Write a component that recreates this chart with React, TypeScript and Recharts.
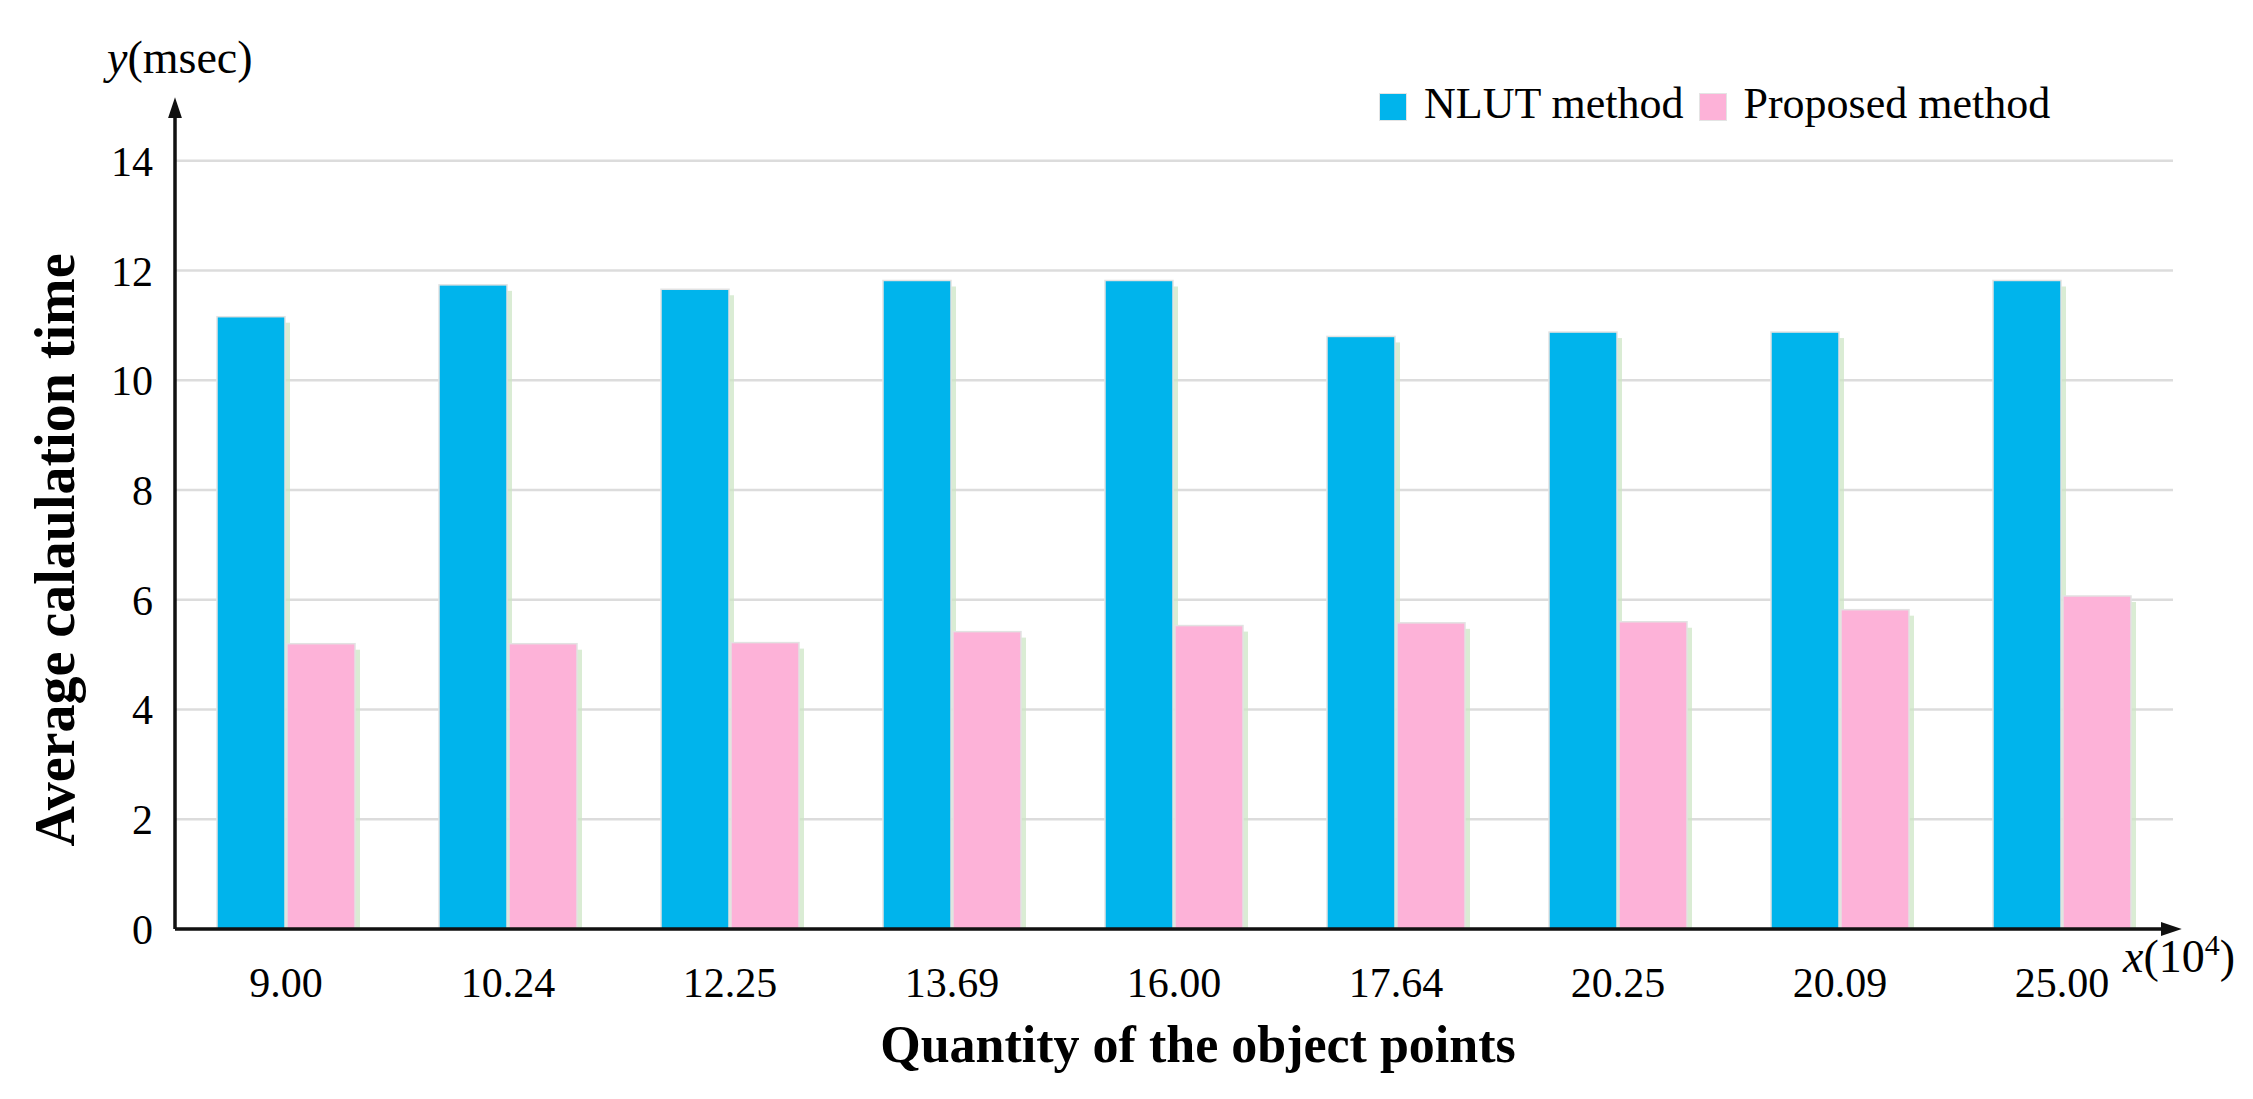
import React from "react";
import {
  BarChart,
  Bar,
  XAxis,
  YAxis,
  CartesianGrid,
  Label,
} from "recharts";

// values
const categories = ["9.00", "10.24", "12.25", "13.69", "16.00", "17.64", "20.25", "20.09", "25.00"];
const nlutTimes = [11.16, 11.74, 11.66, 11.82, 11.82, 10.8, 10.88, 10.88, 11.82];
const proposedTimes = [5.2, 5.2, 5.22, 5.42, 5.53, 5.58, 5.6, 5.82, 6.07];
const yTicks = [0, 2, 4, 6, 8, 10, 12, 14];

const seriesNames = ["NLUT method", "Proposed method"];
const seriesColors = ["#00B4EC", "#FDB2D8"];

const data = categories.map((c, i) => ({
  name: c,
  nlut: nlutTimes[i],
  proposed: proposedTimes[i],
}));

const FONT = '"Liberation Serif", "Times New Roman", serif';

// bar with the soft green shadow on its right side
const ShadowBar = (props: any) => {
  const { x, y, width, height, fill } = props;
  if (!height || height <= 0) return null;
  return (
    <g>
      <rect x={x + width} y={y + 6} width={5} height={height - 6} fill="#cde6c6" opacity={0.75} />
      <rect x={x} y={y} width={width} height={height} fill={fill} stroke="#e2e2e2" strokeWidth={1.5} />
    </g>
  );
};

const LegendBox = () => (
  <div
    style={{
      position: "absolute",
      top: 82,
      left: 1379,
      display: "flex",
      alignItems: "center",
      fontFamily: FONT,
      fontSize: 44,
      lineHeight: 1,
      color: "#000",
    }}
  >
    {seriesNames.map((n, i) => (
      <span key={n} style={{ display: "flex", alignItems: "center", marginRight: 15 }}>
        <span
          style={{
            width: 26,
            height: 26,
            marginTop: 6,
            background: seriesColors[i],
            border: "1px solid #e4e4e4",
            marginRight: 17,
            display: "inline-block",
          }}
        />
        {n}
      </span>
    ))}
  </div>
);

function App() {
  return (
    <div style={{ position: "absolute", left: 0, top: 0, width: 2253, height: 1099, background: "#fff" }}>
      <BarChart
        width={2253}
        height={1099}
        data={data}
        margin={{ top: 106, right: 80, left: 0, bottom: 0 }}
        barCategoryGap={42}
        barGap={2}
      >
        <defs>
          <marker
            id="axisArrow"
            viewBox="0 0 12 8"
            refX="7"
            refY="4"
            markerWidth="6"
            markerHeight="4"
            orient="auto-start-reverse"
          >
            <path d="M0,0 L12,4 L0,8 z" fill="#111" />
          </marker>
        </defs>
        <CartesianGrid vertical={false} horizontalValues={yTicks} stroke="#dcdcdc" strokeWidth={2.5} />
        <XAxis
          dataKey="name"
          height={170}
          tickSize={0}
          tickMargin={38}
          axisLine={{ stroke: "#111", strokeWidth: 3.5, markerEnd: "url(#axisArrow)" }}
          tick={{ fontFamily: FONT, fontSize: 42, fill: "#000" }}
          interval={0}
        >
          <Label
            content={() => (
              <g>
                <text x={1198} y={1062} textAnchor="middle" fontFamily={FONT} fontSize={52} fontWeight="bold" fill="#000">
                  Quantity of the object points
                </text>
                <text x={2123} y={972} fontFamily={FONT} fontSize={46} fill="#000">
                  <tspan fontStyle="italic">x</tspan>
                  <tspan>(10</tspan>
                  <tspan dy={-17} fontSize={30}>4</tspan>
                  <tspan dy={17}>)</tspan>
                </text>
              </g>
            )}
          />
        </XAxis>
        <YAxis
          width={175}
          domain={[0, 15]}
          ticks={yTicks}
          tickSize={0}
          tickMargin={22}
          axisLine={{ stroke: "#111", strokeWidth: 3.5, markerStart: "url(#axisArrow)" }}
          tick={{ fontFamily: FONT, fontSize: 42, fill: "#000" }}
        >
          <Label
            content={() => (
              <g>
                <text
                  x={74}
                  y={550}
                  transform="rotate(-90, 74, 550)"
                  textAnchor="middle"
                  fontFamily={FONT}
                  fontSize={56}
                  fontWeight="bold"
                  fill="#000"
                >
                  Average calaulation time
                </text>
                <text x={107} y={73} fontFamily={FONT} fontSize={46} fill="#000">
                  <tspan fontStyle="italic">y</tspan>
                  <tspan>(msec)</tspan>
                </text>
              </g>
            )}
          />
        </YAxis>
        <Bar dataKey="nlut" name={seriesNames[0]} fill={seriesColors[0]} shape={<ShadowBar />} isAnimationActive={false} />
        <Bar dataKey="proposed" name={seriesNames[1]} fill={seriesColors[1]} shape={<ShadowBar />} isAnimationActive={false} />
      </BarChart>
      <LegendBox />
    </div>
  );
}

export default App;
